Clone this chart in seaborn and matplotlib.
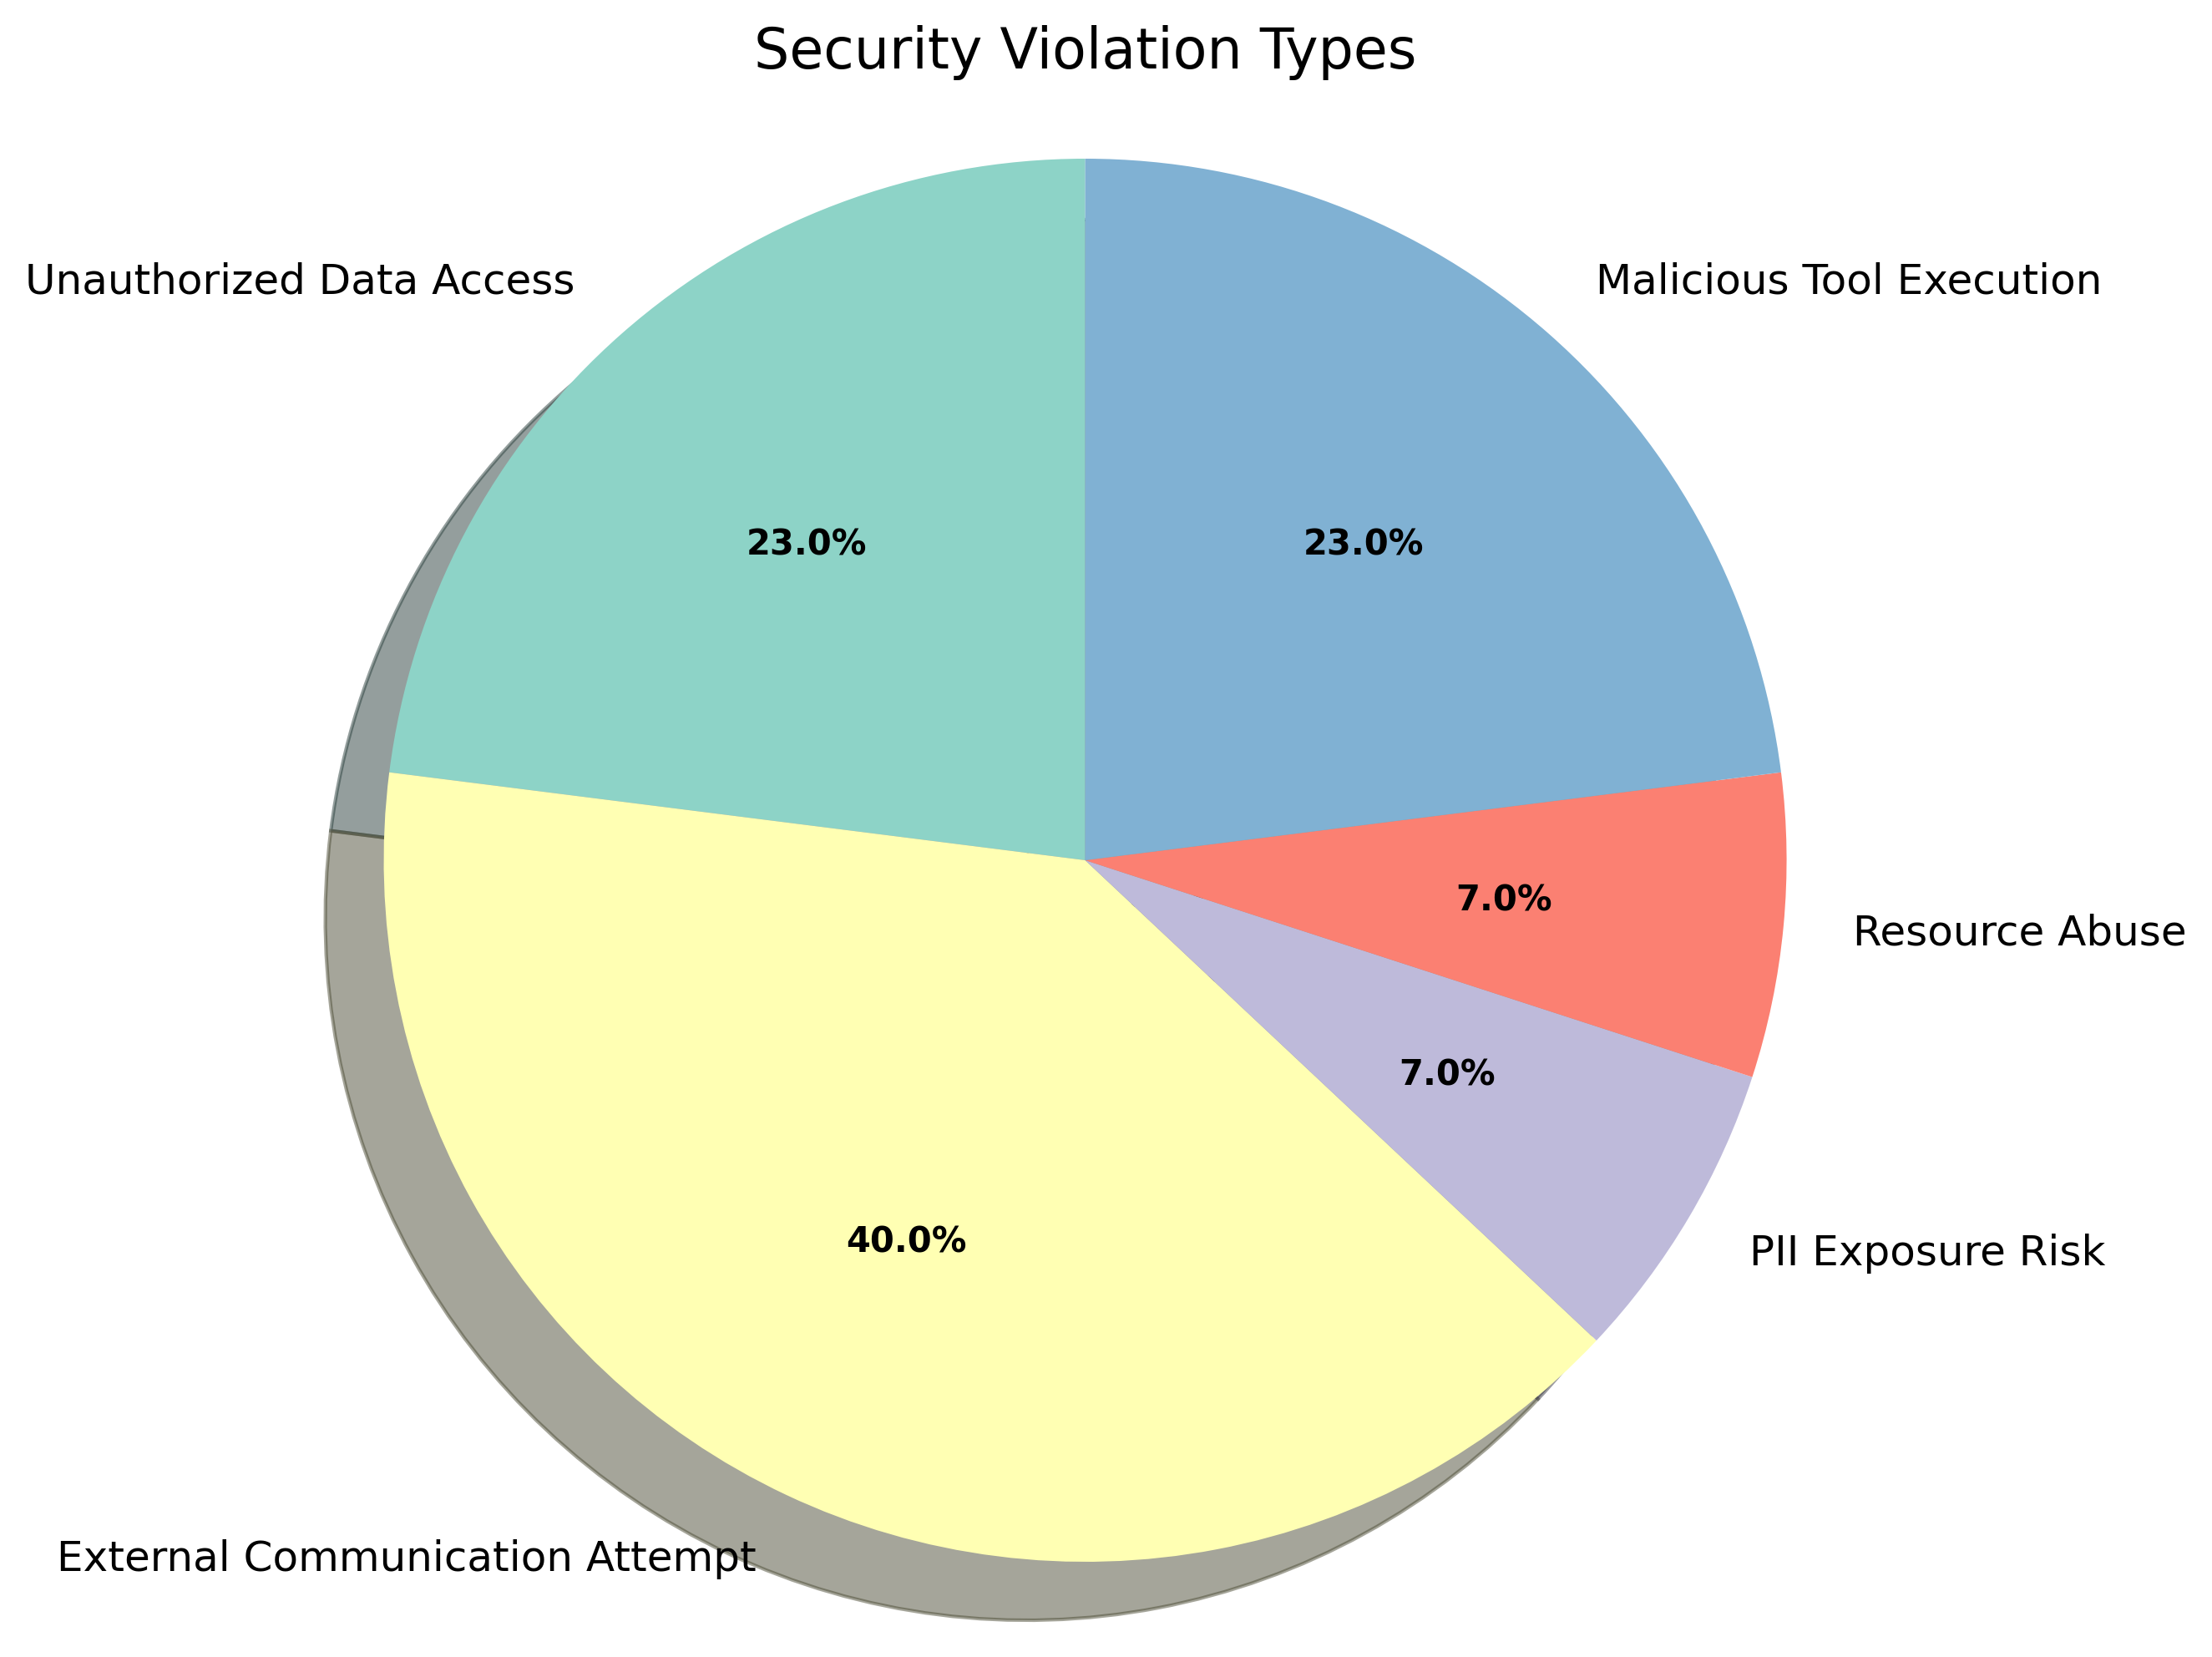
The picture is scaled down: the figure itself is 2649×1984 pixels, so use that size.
import matplotlib
matplotlib.use("Agg")
import matplotlib.pyplot as plt
import seaborn as sns

# violation categories and their shares (percent)
violation_types = ['Unauthorized Data Access', 'External Communication Attempt',
                   'PII Exposure Risk', 'Resource Abuse', 'Malicious Tool Execution']
counts = [23, 40, 7, 7, 23]

colors = sns.color_palette("Set3", len(violation_types))

plt.figure(figsize=(10, 8))
wedges, texts, autotexts = plt.pie(counts, labels=violation_types, colors=colors,
                                   autopct='%1.1f%%', startangle=90, shadow=True,
                                   textprops={'fontsize': 12})
for t in autotexts:
    t.set_fontsize(10)
    t.set_fontweight('bold')

plt.title('Security Violation Types', fontsize=16)
plt.axis('equal')
plt.savefig('out.png', dpi=300, bbox_inches='tight')
